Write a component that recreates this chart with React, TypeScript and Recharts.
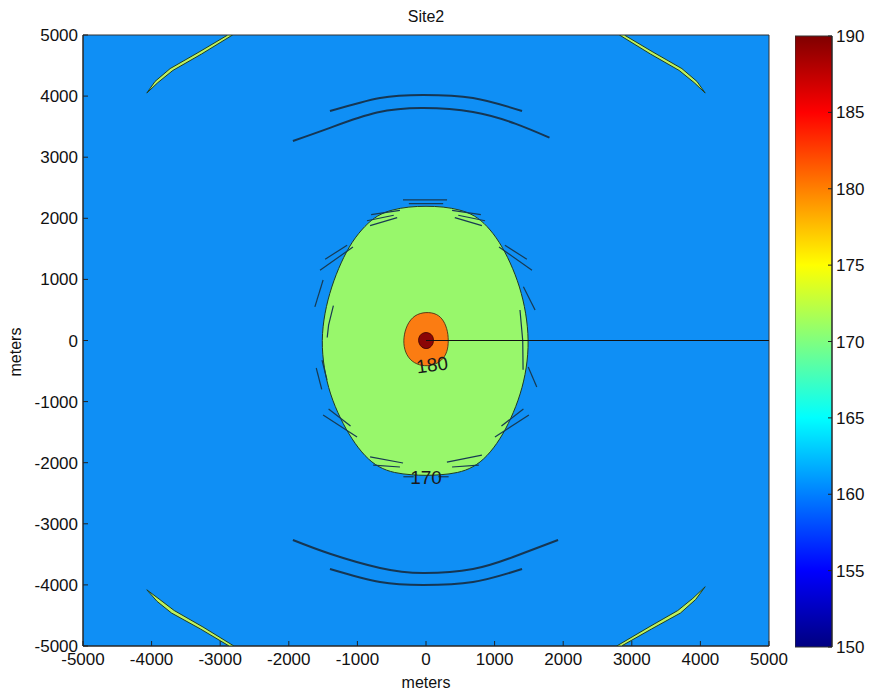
import { ComposedChart, Scatter, XAxis, YAxis, ReferenceArea } from "recharts";

const FONT = "'Liberation Sans', Arial, Helvetica, sans-serif";

const axisTicks = [-5000, -4000, -3000, -2000, -1000, 0, 1000, 2000, 3000, 4000, 5000];
const colorTicks = [150, 155, 160, 165, 170, 175, 180, 185, 190];

// jet colormap stops for the colorbar
const jetStops = [
    { offset: 0, color: "#000080" },
    { offset: 0.125, color: "#0000ff" },
    { offset: 0.375, color: "#00ffff" },
    { offset: 0.625, color: "#ffff00" },
    { offset: 0.875, color: "#ff0000" },
    { offset: 1, color: "#800000" },
];

// 170 dB contour (green zone)
const greenZone = [
    { x: 0, y: 2200 }, { x: 250, y: 2190 }, { x: 500, y: 2140 }, { x: 710, y: 2050 },
    { x: 890, y: 1880 }, { x: 1070, y: 1620 }, { x: 1230, y: 1280 }, { x: 1370, y: 880 },
    { x: 1460, y: 450 }, { x: 1500, y: 0 }, { x: 1470, y: -450 }, { x: 1380, y: -880 },
    { x: 1240, y: -1280 }, { x: 1080, y: -1620 }, { x: 890, y: -1900 }, { x: 690, y: -2080 },
    { x: 460, y: -2170 }, { x: 210, y: -2200 }, { x: 0, y: -2210 }, { x: -210, y: -2200 },
    { x: -460, y: -2170 }, { x: -690, y: -2080 }, { x: -890, y: -1900 }, { x: -1080, y: -1620 },
    { x: -1250, y: -1280 }, { x: -1400, y: -880 }, { x: -1490, y: -450 }, { x: -1525, y: 0 },
    { x: -1480, y: 450 }, { x: -1380, y: 880 }, { x: -1240, y: 1280 }, { x: -1080, y: 1620 },
    { x: -890, y: 1880 }, { x: -710, y: 2050 }, { x: -500, y: 2140 }, { x: -250, y: 2190 },
];

// 180 dB contour (orange zone)
const orangeZone = [
    { x: 0, y: 470 }, { x: 160, y: 440 }, { x: 260, y: 330 }, { x: 320, y: 150 },
    { x: 330, y: -50 }, { x: 300, y: -230 }, { x: 200, y: -360 }, { x: 60, y: -420 },
    { x: -100, y: -410 }, { x: -240, y: -320 }, { x: -320, y: -150 }, { x: -330, y: 50 },
    { x: -280, y: 260 }, { x: -170, y: 420 },
];

// 190 dB peak
const peakZone = [
    { x: 0, y: 140 }, { x: 80, y: 110 }, { x: 115, y: 30 }, { x: 105, y: -60 },
    { x: 60, y: -120 }, { x: 0, y: -140 }, { x: -65, y: -115 }, { x: -110, y: -40 },
    { x: -110, y: 45 }, { x: -75, y: 110 },
];

// thin 170 dB bands in the corners
const cornerBands = [
    [
        { x: -4070, y: 4050 }, { x: -3950, y: 4240 }, { x: -3730, y: 4450 }, { x: -3310, y: 4720 },
        { x: -2890, y: 5000 }, { x: -2820, y: 5000 }, { x: -3270, y: 4690 }, { x: -3690, y: 4420 },
        { x: -3910, y: 4220 }, { x: -4070, y: 4050 },
    ],
    [
        { x: 4070, y: 4050 }, { x: 3950, y: 4240 }, { x: 3730, y: 4450 }, { x: 3310, y: 4720 },
        { x: 2890, y: 5000 }, { x: 2820, y: 5000 }, { x: 3270, y: 4690 }, { x: 3690, y: 4420 },
        { x: 3910, y: 4220 }, { x: 4070, y: 4050 },
    ],
    [
        { x: -4070, y: -4080 }, { x: -3920, y: -4270 }, { x: -3710, y: -4460 }, { x: -3290, y: -4720 },
        { x: -2870, y: -5000 }, { x: -2800, y: -5000 }, { x: -3250, y: -4690 }, { x: -3670, y: -4420 },
        { x: -3880, y: -4240 }, { x: -4070, y: -4080 },
    ],
    [
        { x: 4070, y: -4030 }, { x: 3930, y: -4240 }, { x: 3710, y: -4460 }, { x: 3290, y: -4720 },
        { x: 2850, y: -5000 }, { x: 2780, y: -5000 }, { x: 3250, y: -4690 }, { x: 3670, y: -4420 },
        { x: 3890, y: -4220 }, { x: 4070, y: -4030 },
    ],
];

// side-lobe arcs above and below the source
const sideArcs = [
    [
        { x: -1400, y: 3755 }, { x: -670, y: 3970 }, { x: -40, y: 4018 },
        { x: 685, y: 3970 }, { x: 1400, y: 3755 },
    ],
    [
        { x: -1940, y: 3265 }, { x: -1400, y: 3480 }, { x: -715, y: 3730 }, { x: -40, y: 3805 },
        { x: 685, y: 3740 }, { x: 1300, y: 3550 }, { x: 1800, y: 3320 },
    ],
    [
        { x: -1940, y: -3265 }, { x: -1400, y: -3490 }, { x: -670, y: -3723 }, { x: -40, y: -3805 },
        { x: 685, y: -3740 }, { x: 1270, y: -3543 }, { x: 1925, y: -3265 },
    ],
    [
        { x: -1400, y: -3740 }, { x: -670, y: -3953 }, { x: -40, y: -4002 },
        { x: 685, y: -3953 }, { x: 1400, y: -3740 },
    ],
];

// ragged contour fragments around the 170 dB edge
const streaks = [
    [{ x: -335, y: 2300 }, { x: 307, y: 2300 }],
    [{ x: -250, y: 2240 }, { x: 250, y: 2240 }],
    [{ x: -800, y: 2060 }, { x: -380, y: 2130 }],
    [{ x: -860, y: 1960 }, { x: -470, y: 2050 }],
    [{ x: -815, y: 1880 }, { x: -420, y: 2010 }],
    [{ x: 380, y: 2130 }, { x: 800, y: 2060 }],
    [{ x: 470, y: 2050 }, { x: 860, y: 1960 }],
    [{ x: 420, y: 2010 }, { x: 815, y: 1880 }],
    [{ x: -1545, y: 1150 }, { x: -1065, y: 1530 }],
    [{ x: -1470, y: 1330 }, { x: -1150, y: 1560 }],
    [{ x: 1065, y: 1530 }, { x: 1545, y: 1150 }],
    [{ x: 1150, y: 1560 }, { x: 1470, y: 1330 }],
    [{ x: -1620, y: 550 }, { x: -1500, y: 990 }],
    [{ x: 1590, y: 500 }, { x: 1420, y: 880 }],
    [{ x: -1350, y: 570 }, { x: -1420, y: 250 }, { x: -1440, y: 50 }],
    [{ x: 1370, y: 500 }, { x: 1410, y: 0 }, { x: 1415, y: -480 }],
    [{ x: -1516, y: -320 }, { x: -1443, y: -645 }],
    [{ x: -1600, y: -450 }, { x: -1520, y: -800 }],
    [{ x: 1490, y: -435 }, { x: 1615, y: -760 }],
    [{ x: -1500, y: -1220 }, { x: -1005, y: -1580 }],
    [{ x: -1420, y: -1120 }, { x: -1100, y: -1400 }],
    [{ x: 1005, y: -1580 }, { x: 1500, y: -1220 }],
    [{ x: 1100, y: -1400 }, { x: 1420, y: -1120 }],
    [{ x: -815, y: -1905 }, { x: -335, y: -2005 }],
    [{ x: -770, y: -2040 }, { x: -380, y: -2070 }],
    [{ x: 305, y: -1990 }, { x: 815, y: -1875 }],
    [{ x: 380, y: -2070 }, { x: 770, y: -2040 }],
    [{ x: -330, y: -2230 }, { x: -180, y: -2230 }],
    [{ x: 180, y: -2230 }, { x: 330, y: -2230 }],
];

const rayLine = [{ x: 0, y: 0 }, { x: 5000, y: 0 }];

const contourLabels = [
    { x: 90, y: -400, text: "180", angle: -8 },
    { x: 0, y: -2250, text: "170", angle: 0 },
];

// corners of the frame, used to bind the mirrored tick axes
const frameCorners = [{ x: -5000, y: -5000 }, { x: 5000, y: 5000 }];
const colorRange = [{ x: 0.5, y: 150 }, { x: 0.5, y: 190 }];

const renderNothing = () => <g />;

const renderLabel = (p: any) => (
    <text
        x={p.cx}
        y={p.cy}
        textAnchor="middle"
        dominantBaseline="central"
        fontSize={19}
        fontFamily={FONT}
        fill="#1a1a1a"
        transform={`rotate(${p.payload.angle} ${p.cx} ${p.cy})`}
    >
        {p.payload.text}
    </text>
);

const tickStyle = { fontSize: 17, fill: "#111", fontFamily: FONT };

const App = () => {
    return (
        <div
            style={{
                position: "fixed",
                left: 0,
                top: 0,
                width: 873,
                height: 694,
                background: "#fff",
                fontFamily: FONT,
            }}
        >
            <div
                style={{
                    position: "absolute",
                    left: 83,
                    width: 686,
                    top: 7,
                    textAlign: "center",
                    fontSize: 16,
                    lineHeight: "20px",
                    color: "#111",
                }}
            >
                Site2
            </div>
            <div
                style={{
                    position: "absolute",
                    left: 83,
                    width: 686,
                    top: 673,
                    textAlign: "center",
                    fontSize: 16,
                    lineHeight: "20px",
                    color: "#111",
                }}
            >
                meters
            </div>
            <div
                style={{
                    position: "absolute",
                    left: 16,
                    top: 352,
                    transform: "translate(-50%, -50%) rotate(-90deg)",
                    fontSize: 16,
                    lineHeight: "20px",
                    color: "#111",
                    whiteSpace: "nowrap",
                }}
            >
                meters
            </div>

            <div style={{ position: "absolute", left: 0, top: 0 }}>
                <ComposedChart
                    width={873}
                    height={694}
                    margin={{ top: 35, right: 104, bottom: 0, left: 0 }}
                >
                    <XAxis
                        type="number"
                        dataKey="x"
                        domain={[-5000, 5000]}
                        ticks={axisTicks}
                        interval={0}
                        allowDataOverflow
                        height={48}
                        tickSize={-5}
                        tickMargin={12}
                        tick={tickStyle}
                        stroke="#222"
                    />
                    <XAxis
                        xAxisId="top"
                        orientation="top"
                        type="number"
                        dataKey="x"
                        domain={[-5000, 5000]}
                        ticks={axisTicks}
                        interval={0}
                        allowDataOverflow
                        height={0}
                        tickSize={-5}
                        tick={renderNothing}
                        stroke="#222"
                    />
                    <YAxis
                        type="number"
                        dataKey="y"
                        domain={[-5000, 5000]}
                        ticks={axisTicks}
                        interval={0}
                        allowDataOverflow
                        width={83}
                        tickSize={-5}
                        tickMargin={10}
                        tick={tickStyle}
                        stroke="#222"
                    />
                    <YAxis
                        yAxisId="right"
                        orientation="right"
                        type="number"
                        dataKey="y"
                        domain={[-5000, 5000]}
                        ticks={axisTicks}
                        interval={0}
                        allowDataOverflow
                        width={0}
                        tickSize={-5}
                        tick={renderNothing}
                        stroke="#222"
                    />
                    <ReferenceArea
                        x1={-5000}
                        x2={5000}
                        y1={-5000}
                        y2={5000}
                        fill="#0f8ff5"
                        fillOpacity={1}
                        stroke="#333"
                        strokeWidth={1}
                    />
                    <Scatter
                        xAxisId="top"
                        yAxisId="right"
                        data={frameCorners}
                        shape={renderNothing}
                        isAnimationActive={false}
                    />
                    {cornerBands.map((band, i) => (
                        <Scatter
                            key={`band-${i}`}
                            data={band}
                            line={{ fill: "#bff25e", stroke: "#1d3d24", strokeWidth: 1 }}
                            lineType="joint"
                            shape={renderNothing}
                            isAnimationActive={false}
                        />
                    ))}
                    {sideArcs.map((arc, i) => (
                        <Scatter
                            key={`arc-${i}`}
                            data={arc}
                            line={{ fill: "none", stroke: "#163652", strokeWidth: 2 }}
                            lineType="joint"
                            lineJointType="natural"
                            shape={renderNothing}
                            isAnimationActive={false}
                        />
                    ))}
                    <Scatter
                        data={greenZone}
                        line={{ fill: "#98f76b", stroke: "#1f3a22", strokeWidth: 1 }}
                        lineType="joint"
                        lineJointType="basisClosed"
                        shape={renderNothing}
                        isAnimationActive={false}
                    />
                    {streaks.map((s, i) => (
                        <Scatter
                            key={`streak-${i}`}
                            data={s}
                            line={{ fill: "none", stroke: "#173a52", strokeWidth: 1.2 }}
                            lineType="joint"
                            shape={renderNothing}
                            isAnimationActive={false}
                        />
                    ))}
                    <Scatter
                        data={orangeZone}
                        line={{ fill: "#fb7c12", stroke: "#3a2210", strokeWidth: 0.8 }}
                        lineType="joint"
                        lineJointType="basisClosed"
                        shape={renderNothing}
                        isAnimationActive={false}
                    />
                    <Scatter
                        data={peakZone}
                        line={{ fill: "#8a0606", stroke: "#3a0000", strokeWidth: 0.8 }}
                        lineType="joint"
                        lineJointType="basisClosed"
                        shape={renderNothing}
                        isAnimationActive={false}
                    />
                    <Scatter
                        data={rayLine}
                        line={{ fill: "none", stroke: "#111", strokeWidth: 1 }}
                        lineType="joint"
                        shape={renderNothing}
                        isAnimationActive={false}
                    />
                    <Scatter
                        data={contourLabels}
                        shape={renderLabel}
                        isAnimationActive={false}
                    />
                </ComposedChart>
            </div>

            <div style={{ position: "absolute", left: 795, top: 0 }}>
                <ComposedChart
                    width={78}
                    height={694}
                    margin={{ top: 36, right: 0, bottom: 47, left: 0 }}
                >
                    <defs>
                        <linearGradient id="jet" x1="0" y1="1" x2="0" y2="0">
                            {jetStops.map((s) => (
                                <stop key={s.offset} offset={s.offset} stopColor={s.color} />
                            ))}
                        </linearGradient>
                    </defs>
                    <XAxis type="number" dataKey="x" domain={[0, 1]} hide />
                    <YAxis
                        type="number"
                        dataKey="y"
                        orientation="right"
                        domain={[150, 190]}
                        ticks={colorTicks}
                        interval={0}
                        width={41}
                        tickSize={-4}
                        tickMargin={8}
                        tick={tickStyle}
                        stroke="#222"
                    />
                    <ReferenceArea
                        x1={0}
                        x2={1}
                        y1={150}
                        y2={190}
                        fill="url(#jet)"
                        fillOpacity={1}
                        stroke="#333"
                        strokeWidth={1}
                    />
                    <Scatter data={colorRange} shape={renderNothing} isAnimationActive={false} />
                </ComposedChart>
            </div>
        </div>
    );
};

export default App;
